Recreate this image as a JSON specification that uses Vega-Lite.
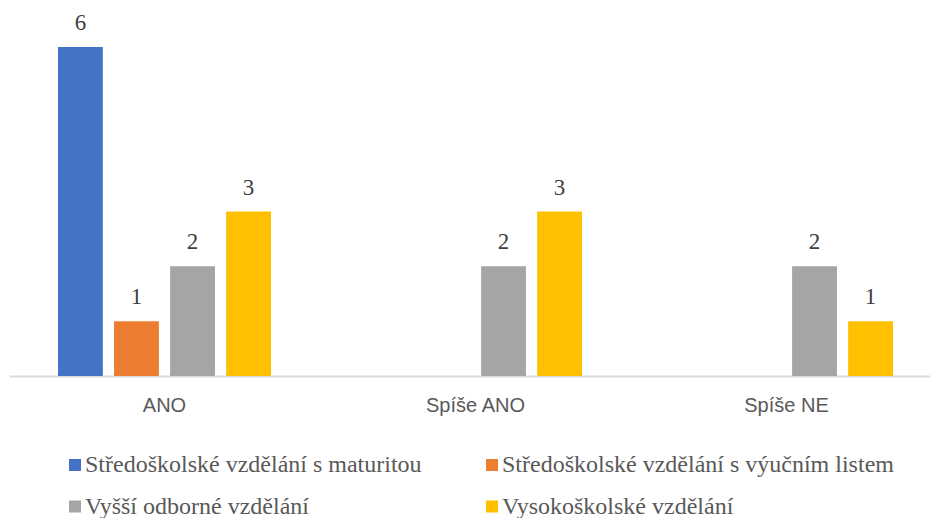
{
  "$schema": "https://vega.github.io/schema/vega-lite/v6.json",
  "width": 933,
  "height": 366,
  "autosize": {"type": "none"},
  "padding": {"left": 9, "top": 10, "right": 0, "bottom": 142},
  "background": "white",
  "config": {"view": {"stroke": null}},
  "data": {
    "values": [
      {"kat": "ANO", "serie": "Středoškolské vzdělání s maturitou", "pocet": 6},
      {"kat": "ANO", "serie": "Středoškolské vzdělání s výučním listem", "pocet": 1},
      {"kat": "ANO", "serie": "Vyšší odborné vzdělání", "pocet": 2},
      {"kat": "ANO", "serie": "Vysokoškolské vzdělání", "pocet": 3},
      {"kat": "Spíše ANO", "serie": "Vyšší odborné vzdělání", "pocet": 2},
      {"kat": "Spíše ANO", "serie": "Vysokoškolské vzdělání", "pocet": 3},
      {"kat": "Spíše NE", "serie": "Vyšší odborné vzdělání", "pocet": 2},
      {"kat": "Spíše NE", "serie": "Vysokoškolské vzdělání", "pocet": 1}
    ]
  },
  "encoding": {
    "x": {
      "field": "kat", "type": "nominal", "sort": ["ANO", "Spíše ANO", "Spíše NE"],
      "scale": {"paddingInner": 0.315, "paddingOuter": 0.1575},
      "axis": {"title": null, "labelAngle": 0, "ticks": false, "grid": false,
        "domainColor": "#d9d9d9", "domainWidth": 2,
        "labelFont": "Liberation Sans", "labelFontSize": 20, "labelColor": "#595959",
        "labelPadding": 19}
    },
    "xOffset": {
      "field": "serie", "type": "nominal",
      "sort": ["Středoškolské vzdělání s maturitou", "Středoškolské vzdělání s výučním listem", "Vyšší odborné vzdělání", "Vysokoškolské vzdělání"],
      "scale": {"domain": ["Středoškolské vzdělání s maturitou", "Středoškolské vzdělání s výučním listem", "Vyšší odborné vzdělání", "Vysokoškolské vzdělání"], "paddingInner": 0.2, "paddingOuter": 0}
    },
    "y": {
      "field": "pocet", "type": "quantitative",
      "scale": {"domain": [0, 6.675], "nice": false, "zero": true},
      "axis": null
    }
  },
  "layer": [
    {
      "mark": {"type": "bar"},
      "encoding": {
        "color": {
          "field": "serie", "type": "nominal",
          "scale": {
            "domain": ["Středoškolské vzdělání s maturitou", "Středoškolské vzdělání s výučním listem", "Vyšší odborné vzdělání", "Vysokoškolské vzdělání"],
            "range": ["#4472C4", "#ED7D31", "#A5A5A5", "#FFC000"]
          },
          "legend": {
            "title": null, "orient": "none", "legendX": 54, "legendY": 443,
            "direction": "horizontal",
            "columns": 2, "columnPadding": 58, "rowPadding": 17.5,
            "symbolType": "square", "symbolSize": 144, "symbolStrokeWidth": 0,
            "labelFont": "Times New Roman, Liberation Serif, serif", "labelFontSize": 24, "labelColor": "#595959",
            "labelOffset": -2, "labelLimit": 500
          }
        }
      }
    },
    {
      "mark": {"type": "text", "baseline": "alphabetic", "dy": -17, "font": "Times New Roman, Liberation Serif, serif", "fontSize": 23, "color": "#404040"},
      "encoding": {"text": {"field": "pocet", "type": "quantitative"}}
    }
  ]
}
